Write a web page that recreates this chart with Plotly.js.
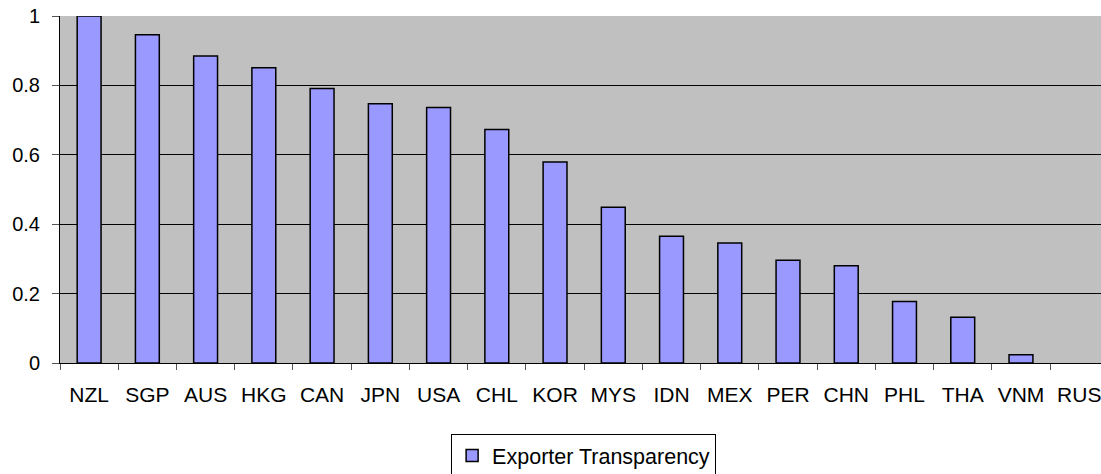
<!DOCTYPE html>
<html>
<head>
<meta charset="utf-8">
<script src="https://cdn.plot.ly/plotly-3.0.1.min.js"></script>
<style>html,body{margin:0;padding:0;background:#fff;}#chart{width:1101px;height:474px;}</style>
</head>
<body>
<div id="chart"></div>
<script>
const categories = ["NZL","SGP","AUS","HKG","CAN","JPN","USA","CHL","KOR","MYS","IDN","MEX","PER","CHN","PHL","THA","VNM","RUS"];
const exporterTransparency = [1.0,0.946,0.885,0.851,0.791,0.747,0.736,0.673,0.579,0.449,0.365,0.346,0.296,0.28,0.177,0.132,0.024,0.0];
const seriesName = "Exporter Transparency";
const yTickVals = [0,0.2,0.4,0.6,0.8,1];
const yTickText = ["0","0.2","0.4","0.6","0.8","1"];

const fam = "Liberation Sans, Arial, sans-serif";
const yFont = {family: fam, size: 20, color: "#000"};
const xFont = {family: fam, size: 21, color: "#000"};
const legFont = {family: fam, size: 21.5, color: "#000"};

Plotly.newPlot("chart", [{
  type: "bar",
  x: categories,
  y: exporterTransparency,
  name: seriesName,
  marker: {color: "#9999FF", line: {color: "#000", width: exporterTransparency.map(v => v > 0 ? 1.5 : 0)}},
  showlegend: true
}], {
  width: 1101, height: 474,
  margin: {l: 60, r: 0, t: 16, b: 111, pad: 0, autoexpand: false},
  paper_bgcolor: "#fff",
  plot_bgcolor: "#C0C0C0",
  font: yFont,
  bargap: 0.59,
  showlegend: true,
  xaxis: {
    type: "category",
    range: [-0.5, 17.374],
    automargin: false,
    showline: true, linecolor: "#000", linewidth: 1,
    ticks: "outside", tickson: "boundaries", ticklen: 6, tickcolor: "#555", tickwidth: 1,
    showgrid: false, zeroline: false,
    tickfont: xFont,
    ticklabelstandoff: 13
  },
  yaxis: {
    range: [0, 1],
    automargin: false,
    tickvals: yTickVals, ticktext: yTickText,
    showline: true, linecolor: "#000", linewidth: 1,
    ticks: "outside", ticklen: 7, tickcolor: "#555", tickwidth: 1,
    showgrid: true, gridcolor: "#000", gridwidth: 1,
    zeroline: false,
    tickfont: yFont,
    ticklabelstandoff: 8
  },
  legend: {
    orientation: "h",
    x: 0.503, xanchor: "center",
    y: -0.205, yanchor: "top",
    bgcolor: "#fff", bordercolor: "#000", borderwidth: 1,
    font: legFont,
    itemwidth: 30
  }
}, {staticPlot: true});
</script>
</body>
</html>
